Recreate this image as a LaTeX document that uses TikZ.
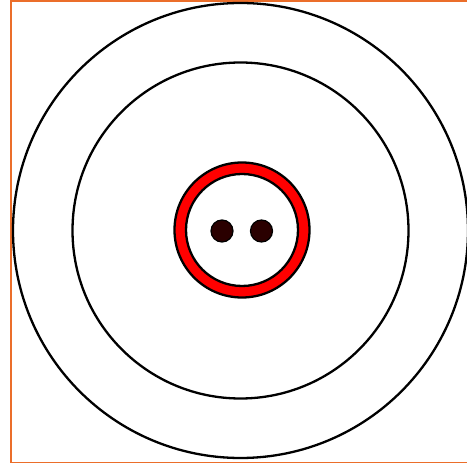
\documentclass[tikz,border=0pt]{standalone}
\definecolor{frameorange}{HTML}{EB6E2A}
\definecolor{dotdark}{HTML}{2A0000}
\tikzset{
  ringline/.style={draw=black, line width=2.3pt},
  frameline/.style={draw=frameorange, line width=1.8pt},
  dotstyle/.style={circle, draw=black, line width=1.2pt, fill=dotdark, minimum size=22pt, inner sep=0pt},
}
\begin{document}
\begin{tikzpicture}[x=1pt, y=-1pt]
\useasboundingbox (0,0) rectangle (467,465);
\fill[white] (0,0) rectangle (467,465);
% frame
\draw[frameline] (470,0.9) -- (10.8,0.9) -- (10.8,462.6) -- (470,462.6);
% circles
\coordinate (c) at (240.5,230.5);
\draw[ringline] (c) circle (227.5);
\draw[ringline] (c) circle (168);
% red ring
\coordinate (rc) at (242,230);
\fill[red, even odd rule] (rc) circle (67.5) (rc) circle (56);
\draw[black, line width=2.3pt] (rc) circle (67.5) (rc) circle (56);
% dots
\node[dotstyle] (d1) at (222,231) {};
\node[dotstyle] (d2) at (261.5,231) {};
\end{tikzpicture}
\end{document}
